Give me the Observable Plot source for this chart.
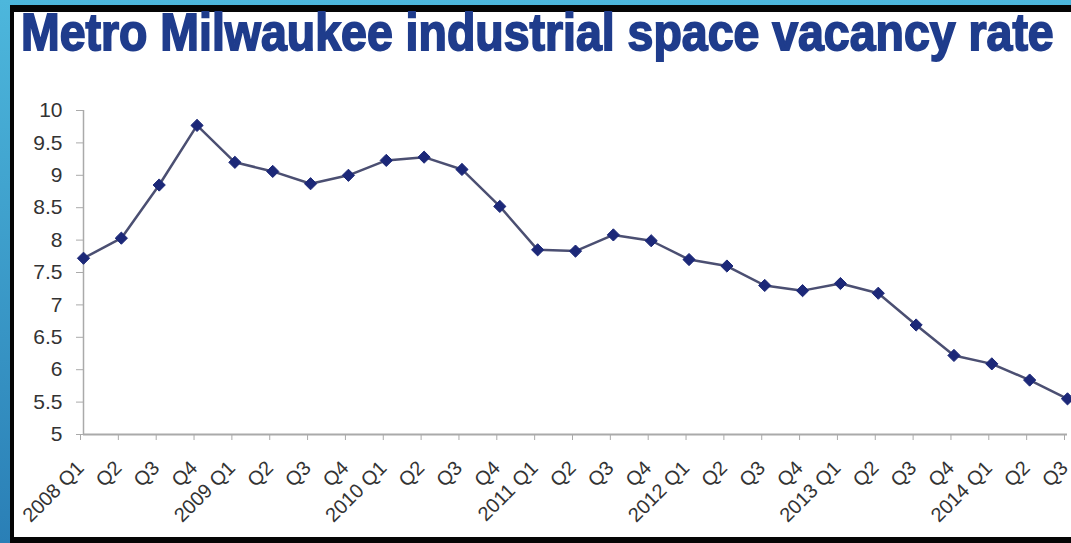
<!DOCTYPE html>
<html>
<head>
<meta charset="utf-8">
<script src="https://cdn.jsdelivr.net/npm/d3@7"></script>
<script src="https://cdn.jsdelivr.net/npm/@observablehq/plot@0.6"></script>
<style>
  html, body { margin: 0; padding: 0; }
  body {
    width: 1071px; height: 543px; overflow: hidden; position: relative;
    background: linear-gradient(#4db7dc, #2a7fb6);
    font-family: "Liberation Sans", Arial, sans-serif;
  }
  #outer { position: absolute; left: 10px; top: 5px; right: 0; bottom: 0; background: #050505; }
  #inner { position: absolute; left: 14px; top: 12px; right: 0; bottom: 6px; background: #fff; }
  #title { position: absolute; left: 0; top: 0; }
  #chart { position: absolute; left: 0; top: 0; }
</style>
</head>
<body>
<div id="outer"></div>
<div id="inner"></div>
<svg id="title" width="1071" height="70">
  <text id="titleText" x="0" y="50" font-family="Liberation Sans, Arial, sans-serif" font-weight="bold"
        font-size="52" fill="#1f3c8c" stroke="#1f3c8c" stroke-width="1.8">Metro Milwaukee industrial space vacancy rate</text>
</svg>
<div id="chart"></div>
<script>
// Quarterly periods, 2008 Q1 through 2014 Q3
const quarters = [
  "2008 Q1", "Q2 ", "Q3 ", "Q4 ",
  "2009 Q1", "Q2  ", "Q3  ", "Q4  ",
  "2010 Q1", "Q2   ", "Q3   ", "Q4   ",
  "2011 Q1", "Q2    ", "Q3    ", "Q4    ",
  "2012 Q1", "Q2     ", "Q3     ", "Q4     ",
  "2013 Q1", "Q2      ", "Q3      ", "Q4      ",
  "2014 Q1", "Q2       ", "Q3       "
];

// Vacancy rate, percent
const vacancyRate = [
  7.72, 8.03, 8.85, 9.77,
  9.20, 9.06, 8.87, 9.00,
  9.23, 9.28, 9.09, 8.52,
  7.85, 7.83, 8.08, 7.99,
  7.70, 7.60, 7.30, 7.22,
  7.33, 7.18, 6.69, 6.22,
  6.09, 5.84, 5.55
];

const yTicks = [5, 5.5, 6, 6.5, 7, 7.5, 8, 8.5, 9, 9.5, 10];

const data = quarters.map((q, i) => ({quarter: q, rate: vacancyRate[i]}));

// Condensed headline: squeeze the bold title horizontally to span the panel
const titleText = document.getElementById("titleText");
const naturalWidth = titleText.getComputedTextLength();
const targetWidth = 1033;
titleText.setAttribute("transform", `translate(21,0) scale(${targetWidth / naturalWidth},1)`);

const chart = Plot.plot({
  width: 1071,
  height: 543,
  marginTop: 110,
  marginBottom: 109,
  marginLeft: 83,
  marginRight: 4,
  style: {background: "transparent", fontFamily: "Liberation Sans, Arial, sans-serif", color: "#333"},
  x: {type: "point", domain: quarters, padding: 0, round: false},
  y: {domain: [5, 10]},
  marks: [
    Plot.ruleX([quarters[0]], {stroke: "#aaaaaa", strokeWidth: 1.5}),
    Plot.ruleY([5], {stroke: "#aaaaaa", strokeWidth: 2}),
    Plot.axisY({ticks: yTicks, tickFormat: d => String(d), tickSize: 7, tickPadding: 14,
      fontSize: 21, stroke: "#aaaaaa", fill: "#333", label: null}),
    Plot.axisX({tickFormat: d => d.trim(), tickRotate: -45, tickSize: 6, tickPadding: 24,
      dx: -3, fontSize: 20, stroke: "#aaaaaa", fill: "#333", label: null}),
    Plot.line(data, {x: "quarter", y: "rate", stroke: "#4b4f72", strokeWidth: 2.5}),
    Plot.dot(data, {x: "quarter", y: "rate", symbol: "diamond2", r: 5.5,
      fill: "#1c2878", stroke: "#1c2878", strokeWidth: 1})
  ]
});
document.getElementById("chart").appendChild(chart);
</script>
</body>
</html>
